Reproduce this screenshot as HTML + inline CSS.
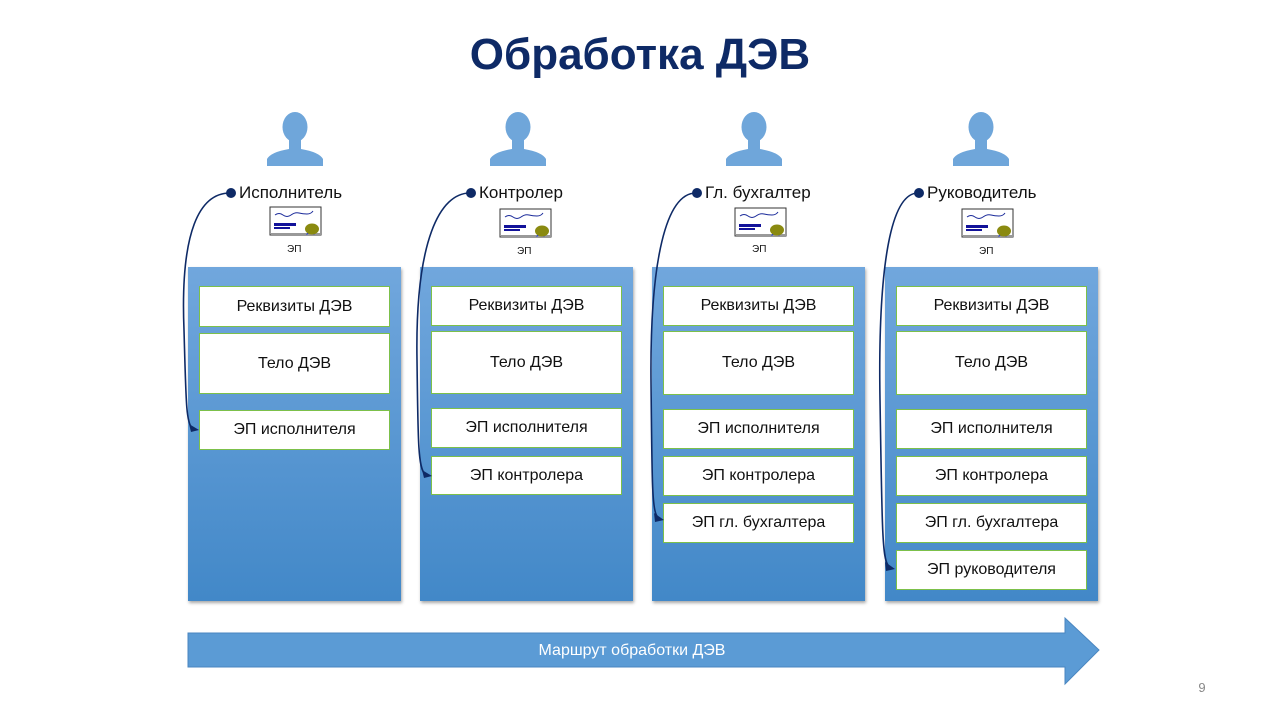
<!DOCTYPE html>
<html><head><meta charset="utf-8"><style>
body{margin:0;width:1280px;height:720px;background:#fff;position:relative;font-family:"Liberation Sans","DejaVu Sans",sans-serif;overflow:hidden}
.t{position:absolute;left:0;width:1280px;top:30px;text-align:center;font-size:44px;font-weight:bold;color:#0e2a66}
.col{position:absolute;top:267px;width:213px;height:334px;background:linear-gradient(#71a7dd,#4288c8);box-shadow:1px 2px 3px rgba(0,0,0,.35)}
.b{position:absolute;left:11px;width:189px;background:#fff;border:1px solid #7cc04a;font-size:16px;color:#111;display:flex;align-items:center;justify-content:center}
.lbl{position:absolute;top:183px;font-size:17px;color:#111}
.ep{position:absolute;top:244px;font-size:10px;color:#111}
</style></head><body>
<div class="t">Обработка ДЭВ</div>
<svg width="1280" height="720" style="position:absolute;left:0;top:0">
<defs>
<g id="p"><ellipse cx="0" cy="-26" rx="12.5" ry="15" fill="#6fa6da"/><path d="M-6,-14 L-6,-4 Q-24,-1 -28,6 L-28,13 L28,13 L28,6 Q24,-1 6,-4 L6,-14 Z" fill="#6fa6da"/></g>
<g id="c"><rect x="0" y="0" width="51" height="28" fill="#fff" stroke="#333" stroke-width="1"/><rect x="1" y="26" width="50" height="2" fill="#999"/>
<path d="M5,8 q4,-3 8,0 t8,0 t8,-2 t8,1 t6,-3" stroke="#1a2a9a" fill="none" stroke-width="1"/>
<rect x="4" y="16" width="22" height="3" fill="#12129a"/><rect x="4" y="20" width="16" height="2" fill="#12129a"/>
<path d="M36,28 l4,-6 l4,6 l4,-6 z" fill="#0a2aff"/><ellipse cx="42" cy="22" rx="7" ry="5.5" fill="#8a8a10"/></g>
</defs>
<use href="#p" x="295" y="153"/><use href="#p" x="518" y="153"/><use href="#p" x="754" y="153"/><use href="#p" x="981" y="153"/>
<use href="#c" x="270" y="207"/><use href="#c" x="500" y="209"/><use href="#c" x="735" y="208"/><use href="#c" x="962" y="209"/>
<path d="M188,633 L1065,633 L1065,618 L1099,650 L1065,684 L1065,667 L188,667 Z" fill="#5b9bd5" stroke="#4a86c0" stroke-width="1"/>
<text x="632" y="655" font-size="16" fill="#fff" text-anchor="middle" font-family="Liberation Sans,sans-serif">Маршрут обработки ДЭВ</text>
<text x="1202" y="692" font-size="13" fill="#888" text-anchor="middle" font-family="Liberation Sans,sans-serif">9</text>
</svg>
<div class="lbl" style="left:239px">Исполнитель</div>
<div class="lbl" style="left:479px">Контролер</div>
<div class="lbl" style="left:705px">Гл. бухгалтер</div>
<div class="lbl" style="left:927px">Руководитель</div>
<div class="ep" style="left:287px">ЭП</div><div class="ep" style="left:517px;top:246px">ЭП</div><div class="ep" style="left:752px;top:244px">ЭП</div><div class="ep" style="left:979px;top:246px">ЭП</div>

<div class="col" style="left:188px">
<div class="b" style="top:19px;height:39px">Реквизиты ДЭВ</div>
<div class="b" style="top:66px;height:59px">Тело ДЭВ</div>
<div class="b" style="top:143px;height:38px">ЭП исполнителя</div>
</div>
<div class="col" style="left:420px">
<div class="b" style="top:19px;height:38px">Реквизиты ДЭВ</div>
<div class="b" style="top:64px;height:61px">Тело ДЭВ</div>
<div class="b" style="top:141px;height:38px">ЭП исполнителя</div>
<div class="b" style="top:189px;height:37px">ЭП контролера</div>
</div>
<div class="col" style="left:652px">
<div class="b" style="top:19px;height:38px">Реквизиты ДЭВ</div>
<div class="b" style="top:64px;height:62px">Тело ДЭВ</div>
<div class="b" style="top:142px;height:38px">ЭП исполнителя</div>
<div class="b" style="top:189px;height:38px">ЭП контролера</div>
<div class="b" style="top:236px;height:38px">ЭП гл. бухгалтера</div>
</div>
<div class="col" style="left:885px">
<div class="b" style="top:19px;height:38px">Реквизиты ДЭВ</div>
<div class="b" style="top:64px;height:62px">Тело ДЭВ</div>
<div class="b" style="top:142px;height:38px">ЭП исполнителя</div>
<div class="b" style="top:189px;height:38px">ЭП контролера</div>
<div class="b" style="top:236px;height:38px">ЭП гл. бухгалтера</div>
<div class="b" style="top:283px;height:38px">ЭП руководителя</div>
</div>
<svg width="1280" height="720" style="position:absolute;left:0;top:0;z-index:5">
<g fill="none" stroke="#0e2a66" stroke-width="1.6">
<path d="M230,193 C200,193 180,230 184,330 C186,400 186,422 192,428"/>
<path d="M470,193 C440,193 415,240 417,360 C418,440 418,468 425,474"/>
<path d="M696,193 C666,193 650,260 651,380 C652,480 652,510 657,516"/>
<path d="M918,193 C888,193 878,280 880,400 C882,520 882,558 888,565"/>
</g>
<g fill="#0e2a66">
<path d="M199,430 L189,424 L191,432 Z"/>
<path d="M432,476 L422,470 L424,478 Z"/>
<path d="M664,520 L654,513 L655,522 Z"/>
<path d="M895,569 L885,562 L886,571 Z"/>
<circle cx="231" cy="193" r="5"/><circle cx="471" cy="193" r="5"/><circle cx="697" cy="193" r="5"/><circle cx="919" cy="193" r="5"/></g>
</svg>
</body></html>
